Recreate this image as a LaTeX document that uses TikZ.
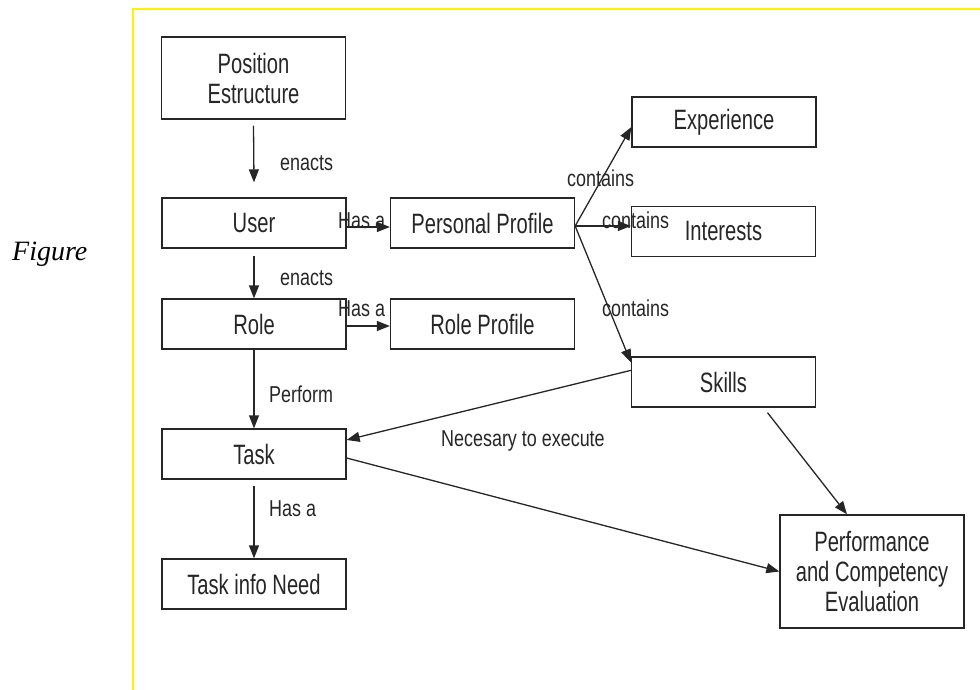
\documentclass[tikz,border=0pt]{standalone}
\usepackage{fontspec}
\setmainfont{Liberation Sans}[FakeStretch=0.72]
\newfontfamily\labfont{Liberation Sans}[FakeStretch=0.78]
\newfontfamily\figfont{Liberation Serif}
\usetikzlibrary{arrows.meta}
\begin{document}
\begin{tikzpicture}[x=1pt,y=-1pt,
  box/.style={draw=black!85, line width=1.3pt, minimum width=184pt, minimum height=50pt,
    inner sep=0pt, align=center, font=\fontsize{28}{30}\selectfont, text=black!85},
  lab/.style={anchor=base west, inner sep=0pt, font=\labfont\fontsize{23}{26}\selectfont, text=black!85},
  arr/.style={draw=black!85, line width=1.3pt, -{Triangle[length=13pt,width=10pt]}},
]
\useasboundingbox (0,0) rectangle (980,690);
\draw[yellow, line width=2pt] (133,690) -- (133,9) -- (980,9);

\node[anchor=base west, inner sep=0pt, font=\figfont\itshape\fontsize{28}{30}\selectfont] (fig) at (12,260) {Figure};

\node[box, minimum height=82pt] (pe) at (253.5,78) {Position\\Estructure};
\node[box] (user) at (254,223) {User};
\node[box] (pp) at (482.5,223) {Personal Profile};
\node[box] (role) at (254,324) {Role};
\node[box] (rp) at (482.5,324) {Role Profile};
\node[box] (task) at (254,454) {Task};
\node[box] (tin) at (254,584) {Task info Need};
\node[box] (exp) at (724,122) {Experience};
\node[box] (int) at (723.5,231.5) {Interests};
\node[box] (skills) at (723.5,382) {Skills};
\node[box, minimum height=113pt] (perf) at (872,571.5) {Performance\\and Competency\\Evaluation};

\draw[arr] ([yshift=-6pt]pe.south) -- ([yshift=15pt]user.north);
\draw[arr] ([yshift=-7pt]user.south) -- (role.north);
\draw[arr] (role.south) -- (task.north);
\draw[arr] ([yshift=-6pt]task.south) -- (tin.north);
\draw[arr] ([yshift=-4pt]user.east) -- ([yshift=-4pt]pp.west);
\draw[arr] ([yshift=-2pt]role.east) -- ([yshift=-2pt]rp.west);
\draw[arr] ([yshift=-3pt]pp.east) -- ([yshift=-5pt]exp.west);
\draw[arr] ([yshift=-3pt]pp.east) -- ([yshift=5.5pt]int.west);
\draw[arr] ([yshift=-3pt]pp.east) -- ([yshift=-6pt]skills.north west);
\draw[arr] ([yshift=-14pt]skills.north west) -- ([yshift=14pt]task.east);
\draw[arr] ([yshift=-4pt]task.east) -- (perf.west);
\draw[arr] ([xshift=44pt,yshift=-5pt]skills.south) -- ([xshift=-25pt]perf.north);

\node[lab] (l1) at (280,171) {enacts};
\node[lab] (l2) at (280,285) {enacts};
\node[lab] (l3) at (338,228) {Has a};
\node[lab] (l4) at (338,316) {Has a};
\node[lab] (l5) at (269,402) {Perform};
\node[lab] (l6) at (269,516) {Has a};
\node[lab] (l7) at (567,186) {contains};
\node[lab] (l8) at (602,228) {contains};
\node[lab] (l9) at (602,316) {contains};
\node[lab] (l10) at (441,446) {Necesary to execute};
\end{tikzpicture}
\end{document}
